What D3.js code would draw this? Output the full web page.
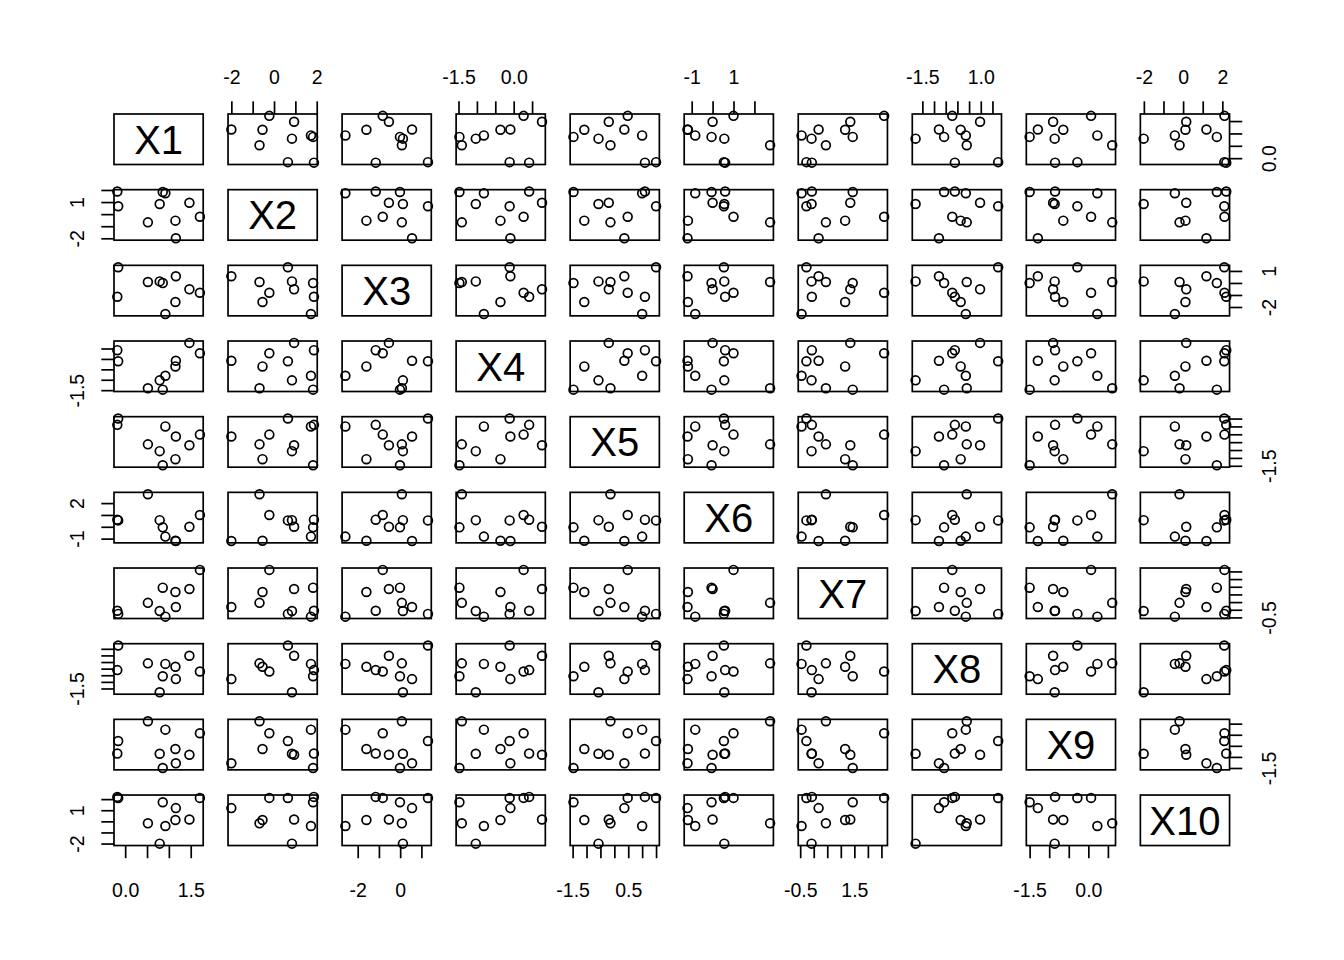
<!DOCTYPE html>
<html>
<head>
<meta charset="utf-8">
<script src="https://cdn.jsdelivr.net/npm/d3@7"></script>
<style>
  html, body { margin: 0; padding: 0; background: #fff; }
  svg { display: block; }
</style>
</head>
<body>
<script>
const varNames = ["X1","X2","X3","X4","X5","X6","X7","X8","X9","X10"];
const X1  = [1.16, 1.71, 1.47, 1.15, 0.52, 0.79, 0.92, 0.86, -0.16, -0.18];
const X2  = [-2.00, -0.22, 0.94, -0.54, -0.68, 0.84, 1.73, 1.83, 0.65, 1.87];
const X3  = [0.56, -0.82, -0.53, -1.59, 0.08, 0.13, -2.58, -0.01, 1.31, -1.15];
const X4  = [-0.09, 0.27, 0.77, -0.36, -1.41, -1.03, -0.81, -1.475, -0.11, 0.42];
const X5  = [0.36, 0.48, -0.20, -1.08, -0.14, -0.57, 1.00, -1.47, 1.50, 1.10];
const X6  = [-1.20, 1.00, 0.00, -1.18, 2.75, 0.56, -0.83, -0.05, 0.54, 0.60];
const X7  = [0.18, 2.60, 1.35, 1.16, 0.45, -0.08, -0.45, 1.44, -0.27, -0.07];
const X8  = [-0.79, -0.22, 0.97, 0.14, 0.40, -1.79, 0.36, -0.57, 1.745, -0.11];
const X9  = [-1.29, 0.07, -0.90, -0.64, 0.61, -0.86, 0.23, -1.50, -0.28, -0.85];
const X10 = [1.19, 2.11, 0.16, 0.12, -0.18, -2.01, -0.42, 1.72, 2.10, 2.20];
const columns = [X1, X2, X3, X4, X5, X6, X7, X8, X9, X10];

// tick values per variable
const tickValues = [
  [0, 0.5, 1, 1.5],
  [-2, -1, 0, 1, 2],
  [-2, -1, 0, 1],
  [-1.5, -1, -0.5, 0, 0.5],
  [-1.5, -1, -0.5, 0, 0.5, 1, 1.5],
  [-1, 0, 1, 2],
  [-0.5, 0, 0.5, 1, 1.5, 2, 2.5],
  [-1.5, -1, -0.5, 0, 0.5, 1, 1.5],
  [-1.5, -1, -0.5, 0, 0.5],
  [-2, -1, 0, 1, 2]
];
// decimals used in tick labels
const tickDecimals = [1, 0, 0, 1, 1, 0, 1, 1, 1, 0];
// labels shown on the horizontal axis (top for even, bottom for odd columns)
const colAxisLabels = [[0, 1.5], [-2, 0, 2], [-2, 0], [-1.5, 0], [-1.5, 0.5],
                       [-1, 1], [-0.5, 1.5], [-1.5, 1], [-1.5, 0], [-2, 0, 2]];
// labels shown on the vertical axis (right for odd, left for even rows)
const rowAxisLabels = [[0], [-2, 1], [-2, 1], [-1.5], [-1.5],
                       [-1, 2], [-0.5], [-1.5], [-1.5], [-2, 1]];

// ---- layout ----
const W = 1344, H = 960;
const L0 = 114, T0 = 114, PW = 89.2, PH = 50.5, DX = 114.04, DY = 75.67;
const N = varNames.length;
const FONT = "'Liberation Sans', Arial, Helvetica, sans-serif";
const LW = 1.7, PLW = 1.7, TICK = 12.7, TFS = 19.5, LFS = 40, R = 4.4;

const svg = d3.select("body").append("svg")
  .attr("width", W).attr("height", H)
  .attr("viewBox", `0 0 ${W} ${H}`);
svg.append("rect").attr("width", W).attr("height", H).attr("fill", "#fff");

function domainOf(v) {
  const [mn, mx] = d3.extent(v);
  const r = mx - mn;
  return [mn - 0.04 * r, mx + 0.04 * r];
}
const xScales = columns.map((v, c) => d3.scaleLinear().domain(domainOf(v))
  .range([L0 + c * DX, L0 + c * DX + PW]));
const yScales = columns.map((v, r) => d3.scaleLinear().domain(domainOf(v))
  .range([T0 + r * DY + PH, T0 + r * DY]));

const fmtFor = k => d => {
  const shown = (k.side === "col" ? colAxisLabels : rowAxisLabels)[k.v];
  return shown.some(s => Math.abs(s - d) < 1e-9) ? d.toFixed(tickDecimals[k.v]) : "";
};

// ---- panels ----
for (let r = 0; r < N; r++) {
  for (let c = 0; c < N; c++) {
    const x0 = L0 + c * DX, y0 = T0 + r * DY;
    const g = svg.append("g");
    if (r === c) {
      g.append("text")
        .attr("x", x0 + PW / 2)
        .attr("y", y0 + PH / 2 + 0.716 * LFS / 2)
        .attr("text-anchor", "middle")
        .attr("font-family", FONT)
        .attr("font-size", LFS)
        .attr("fill", "#000")
        .text(varNames[r]);
    } else {
      const xs = xScales[c], ys = yScales[r];
      g.selectAll("circle")
        .data(d3.range(columns[c].length))
        .join("circle")
        .attr("cx", i => xs(columns[c][i]))
        .attr("cy", i => ys(columns[r][i]))
        .attr("r", R)
        .attr("fill", "none")
        .attr("stroke", "#000")
        .attr("stroke-width", PLW);
    }
    g.append("rect")
      .attr("x", x0).attr("y", y0).attr("width", PW).attr("height", PH)
      .attr("fill", "none").attr("stroke", "#000").attr("stroke-width", LW);
  }
}

// ---- axes ----
function styleAxis(sel) {
  sel.select(".domain").remove();
  sel.selectAll(".tick line").attr("stroke", "#000").attr("stroke-width", LW);
  sel.selectAll(".tick text").attr("fill", "#000")
    .attr("font-family", FONT).attr("font-size", TFS);
  sel.attr("font-family", FONT).attr("font-size", TFS);
}

for (let c = 0; c < N; c++) {
  const isTop = (c % 2 === 1);
  const axis = (isTop ? d3.axisTop(xScales[c]) : d3.axisBottom(xScales[c]))
    .tickValues(tickValues[c])
    .tickSize(TICK).tickSizeOuter(0)
    .tickPadding(isTop ? 17 : 25)
    .tickFormat(fmtFor({ side: "col", v: c }));
  const yPos = isTop ? T0 : T0 + (N - 1) * DY + PH;
  const g = svg.append("g").attr("transform", `translate(0,${yPos})`).call(axis);
  styleAxis(g);
  if (isTop) g.selectAll(".tick text").attr("dy", "0");
}

for (let r = 0; r < N; r++) {
  const isLeft = (r % 2 === 1);
  const axis = (isLeft ? d3.axisLeft(yScales[r]) : d3.axisRight(yScales[r]))
    .tickValues(tickValues[r])
    .tickSize(TICK).tickSizeOuter(0)
    .tickFormat(fmtFor({ side: "row", v: r }));
  const xPos = isLeft ? L0 : L0 + (N - 1) * DX + PW;
  const g = svg.append("g").attr("transform", `translate(${xPos},0)`).call(axis);
  styleAxis(g);
  g.selectAll(".tick text")
    .attr("x", 0).attr("dy", null)
    .attr("text-anchor", "middle")
    .attr("transform", isLeft ? "translate(-29.7,0) rotate(-90)" : "translate(46.5,0) rotate(-90)");
}
</script>
</body>
</html>
